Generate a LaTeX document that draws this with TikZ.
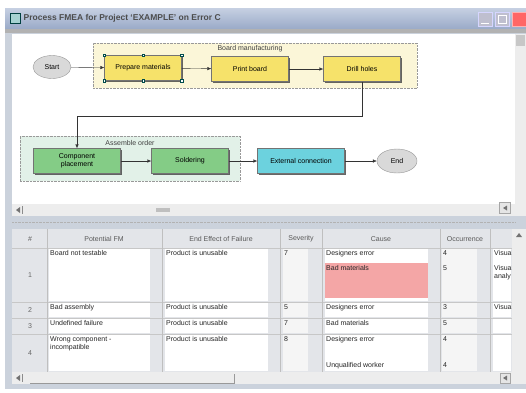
\documentclass[tikz,border=0pt]{standalone}
\usepackage{fontspec}
\setmainfont{Liberation Sans}
\usetikzlibrary{arrows.meta,positioning,calc,shapes.geometric,shadows}

\definecolor{winframe}{HTML}{CBD2DC}
\definecolor{titletop}{HTML}{C6D0E2}
\definecolor{titlebot}{HTML}{9AAAC8}
\definecolor{boardbg}{HTML}{FBF6D8}
\definecolor{boardtask}{HTML}{F6E26A}
\definecolor{assybg}{HTML}{E2F1E8}
\definecolor{assytask}{HTML}{84CC86}
\definecolor{linktask}{HTML}{6CD2DE}
\definecolor{gridgray}{HTML}{E3E5E9}
\definecolor{badcause}{HTML}{F4A6A6}

\begin{document}
\begin{tikzpicture}[
  x=1pt,y=-1pt,
  font=\fontsize{7}{8}\selectfont,
  >={Latex[length=4pt,width=3.5pt]},
  task/.style={draw=black!55,minimum width=77pt,minimum height=25pt,align=center,inner sep=1pt,
    drop shadow={shadow xshift=1.2pt,shadow yshift=-1.2pt,fill=black!75,opacity=.8}},
  board/.style={task,fill=boardtask},
  assy/.style={task,fill=assytask},
  link/.style={task,fill=linktask},
  terminal/.style={ellipse,draw=black!40,fill=black!15,minimum width=38pt,minimum height=23pt,inner sep=0pt},
  group/.style={draw=black!40,densely dotted},
  handle/.style={draw=teal!60!black,fill=white,minimum size=2.6pt,inner sep=0pt},
  flow/.style={->,black!80},
  winbtn/.style={draw=white!60!blue!40,fill=blue!25!black!25,minimum width=14pt,minimum height=14pt,inner sep=0pt},
  cell/.style={anchor=north west,inner sep=1pt,align=left,text=black!85},
  hdr/.style={text=black!65},
  scrollbar/.style={fill=black!7}
]
  \useasboundingbox (0,0) rectangle (526,392);

  % window chrome
  \fill[winframe] (5,8) rectangle (526,389);
  \shade[top color=titletop,bottom color=titlebot] (5,8) rectangle (526,29);
  \fill[black!30] (5,29) rectangle (526,33);
  \node[draw=teal!50!black,fill=teal!35,minimum size=10pt,inner sep=0pt] (appicon) at (15,18) {};
  \node[anchor=west,font=\fontsize{8.5}{9}\bfseries\selectfont,text=black!70] (title) at (appicon.east) {Process FMEA for Project `EXAMPLE' on Error C};
  \node[winbtn] (minbtn) at (485,19) {};
  \node[winbtn] (maxbtn) at (502,19) {};
  \node[winbtn,fill=red!60,draw=red!30] (closebtn) at (519,19) {};
  \draw[white,thick] ([xshift=3pt,yshift=3pt]minbtn.south west) -- ([xshift=-3pt,yshift=3pt]minbtn.south east);
  \draw[white] ([shift={(3pt,-3pt)}]maxbtn.north west) rectangle ([shift={(-3pt,3pt)}]maxbtn.south east);

  % process map canvas
  \fill[white] (12,34) rectangle (515,204);
  \fill[scrollbar] (515,34) rectangle (526,216);
  \fill[black!22] (516,35) rectangle (525,46);
  \fill[scrollbar] (12,204) rectangle (515,216);
  \fill[black!55] (16,210) -- (20,207) -- (20,213) -- cycle;
  \draw[black!45] (22,206) -- (22,214);
  \fill[black!25] (156,208) rectangle (170,212);
  \node[draw=black!35,fill=black!10,minimum size=11pt,inner sep=0pt] (mapcorner) at (505,208) {};
  \fill[black!55] (503,208) -- (507,205.5) -- (507,210.5) -- cycle;

  % groups
  \node[group,fill=boardbg,minimum width=324pt,minimum height=45pt] (boardgrp) at (255,65.5) {};
  \node[text=black!75] (boardlbl) at (250,49) {Board manufacturing};
  \node[group,fill=assybg,minimum width=220pt,minimum height=45pt] (assygrp) at (130,158.5) {};
  \node[text=black!75] (assylbl) at (130,142.5) {Assemble order};

  % tasks
  \node[terminal] (start) at (52,67) {Start};
  \node[board] (prep) at (143,68) {Prepare materials};
  \node[board] (print) at (250,69) {Print board};
  \node[board] (drill) at (362,69) {Drill holes};
  \node[assy,minimum width=87pt] (place) at (77,161) {Component\\placement};
  \node[assy] (solder) at (190,161) {Soldering};
  \node[link,minimum width=87pt] (extconn) at (301,161) {External connection};
  \node[terminal,minimum width=40pt,minimum height=24pt] (stop) at (397,161) {End};

  \foreach \a in {north west,north,north east,south west,south,south east}
    \node[handle] at (prep.\a) {};

  \draw[flow] (start) -- (prep);
  \draw[flow] (prep) -- (print);
  \draw[flow] (print) -- (drill);
  \draw[flow] (drill.south) -- ++(0,34) -| (place.north);
  \draw[flow] (place) -- (solder);
  \draw[flow] (solder) -- (extconn);
  \draw[flow] (extconn) -- (stop);

  % splitter
  \draw[black!30,densely dotted] (12,222) -- (515,222);

  % FMEA grid
  \fill[gridgray] (12,229) rectangle (512,372);
  \foreach \ya/\yb in {248/302,302/318,318/334,334/372}{
    \foreach \xa/\xb in {49/150,165/268,325/428,493/511}
      \fill[white] (\xa,\ya+1) rectangle (\xb,\yb-1);
    \foreach \xa/\xb in {283/308,442/477}
      \fill[black!4] (\xa,\ya+1) rectangle (\xb,\yb-1);
    \draw[black!22] (12,\yb) -- (512,\yb);
  }
  \fill[badcause] (325,263) rectangle (428,298);
  \draw[black!22] (12,248) -- (512,248);
  \foreach \x in {47,162,280,322,440,490}
    \draw[black!25] (\x,229) -- (\x,372);

  \node[hdr] (hnum) at (30,239) {\#};
  \node[hdr] (hfm) at (104,239) {Potential FM};
  \node[hdr] (heff) at (221,239) {End Effect of Failure};
  \node[hdr] (hsev) at (301,239) {Severity};
  \node[hdr] (hcause) at (381,239) {Cause};
  \node[hdr] (hocc) at (465,239) {Occurrence};

  % row 1
  \node[text=black!60] (n1) at (30,275) {1};
  \node[cell] (fm1) at (49,249) {Board not testable};
  \node[cell] (eff1) at (165,249) {Product is unusable};
  \node[cell] (sev1) at (283,249) {7};
  \node[cell] (cause1a) at (325,249) {Designers error};
  \node[cell] (cause1b) at (325,264) {Bad materials};
  \node[cell] (occ1a) at (442,249) {4};
  \node[cell] (occ1b) at (442,264) {5};
  \node[cell] (det1a) at (493,249) {Visual};
  \node[cell] (det1b) at (493,264) {Visual\\analy};
  % row 2
  \node[text=black!60] (n2) at (30,310) {2};
  \node[cell] (fm2) at (49,303) {Bad assembly};
  \node[cell] (eff2) at (165,303) {Product is unusable};
  \node[cell] (sev2) at (283,303) {5};
  \node[cell] (cause2) at (325,303) {Designers error};
  \node[cell] (occ2) at (442,303) {3};
  \node[cell] (det2) at (493,303) {Visual};
  % row 3
  \node[text=black!60] (n3) at (30,326) {3};
  \node[cell] (fm3) at (49,319) {Undefined failure};
  \node[cell] (eff3) at (165,319) {Product is unusable};
  \node[cell] (sev3) at (283,319) {7};
  \node[cell] (cause3) at (325,319) {Bad materials};
  \node[cell] (occ3) at (442,319) {5};
  % row 4
  \node[text=black!60] (n4) at (30,353) {4};
  \node[cell] (fm4) at (49,335) {Wrong component -\\incompatible};
  \node[cell] (eff4) at (165,335) {Product is unusable};
  \node[cell] (sev4) at (283,335) {8};
  \node[cell] (cause4a) at (325,335) {Designers error};
  \node[cell] (cause4b) at (325,361) {Unqualified worker};
  \node[cell] (occ4a) at (442,335) {4};
  \node[cell] (occ4b) at (442,361) {4};

  % grid scrollbars
  \fill[scrollbar] (512,229) rectangle (526,384);
  \fill[black!55] (519,233) -- (516,237) -- (522,237) -- cycle;
  \fill[scrollbar] (12,372) rectangle (512,384);
  \fill[black!55] (16,378) -- (20,375) -- (20,381) -- cycle;
  \draw[black!45] (22,374) -- (22,382);
  \draw[black!40] (30,383) -- (234,383) -- (234,374);
  \node[draw=black!35,fill=black!10,minimum size=10pt,inner sep=0pt] (gridcorner) at (505,378) {};
  \fill[black!55] (503,378) -- (507,375.5) -- (507,380.5) -- cycle;
\end{tikzpicture}
\end{document}
